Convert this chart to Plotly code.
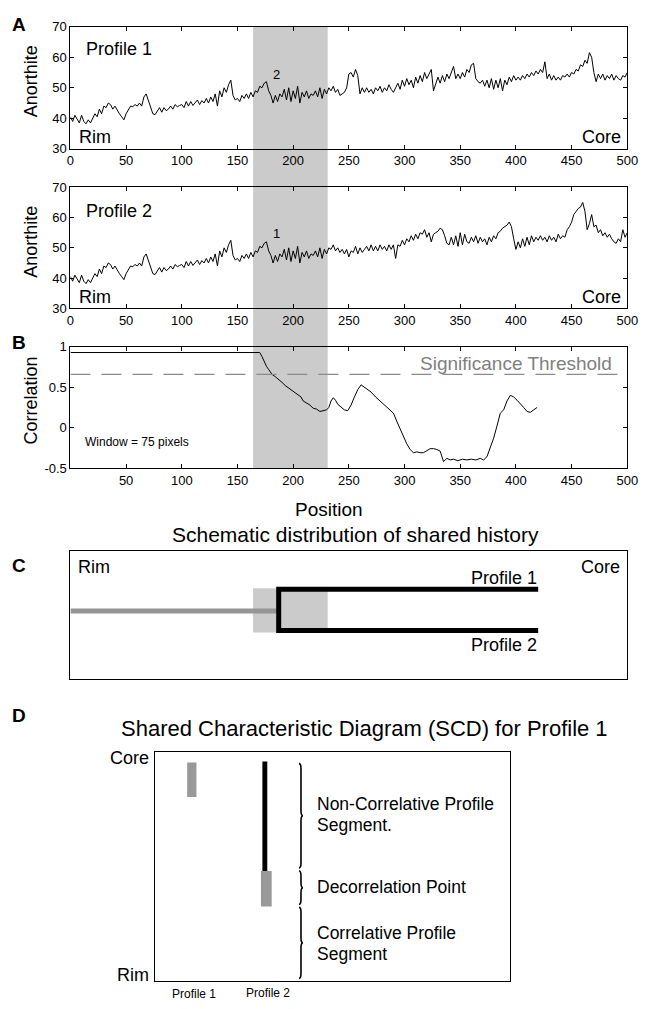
import plotly.graph_objects as go

# ---------------- data ----------------
# Anorthite content along the traverse (step of 2 position units).
# Rim-side segment common to both profiles (positions 0-230)
shared_rim = [
    40.5, 39, 41, 39.5, 38.5, 41, 39, 38.2, 39.5, 38.5,
    40, 41.5, 40.5, 43, 41.5, 44, 43.5, 45, 44.5, 43,
    44, 42.5, 41.5, 40.5, 39.5, 41.5, 43, 44, 43.8, 44.5,
    44, 45, 44, 47, 48, 46, 44, 41.5, 41.2, 42.5,
    43.5, 42, 43.5, 42.5, 43, 44, 43, 44.5, 43.8, 44.2,
    44.5, 43.5, 45.5, 44, 45.5, 44.2, 45, 46, 44.5, 45.8,
    45, 46.5, 45, 47, 45.5, 48, 44, 49, 47, 50,
    48.5, 51, 52.5, 47.5, 46, 46.5, 45.5, 47.5, 46.5, 48,
    46.5, 48.5, 47, 49, 48.5, 50.5, 50, 51.5, 52, 49,
    47.5, 45, 47.5, 45.5, 48, 47, 49.5, 46, 50, 45.5,
    49, 46.5, 50.5, 45, 48.5, 47, 49, 46.5, 48, 47.5,
    49, 47, 50, 46.5, 49.5, 48,
]

# Core-side segments (positions 232-500)
profile1_core = [
    50, 49, 50.5, 48.5, 49.5, 47.5, 48, 48.5, 50, 54.5,
    55, 53.5, 56, 54, 48, 50, 48.5, 50, 48.5, 49.5,
    48, 50, 49, 50.5, 48.5, 50, 49, 51, 49.5, 48.5,
    50, 51.5, 49.5, 52.5, 50.5, 53, 51, 52.5, 50, 53.5,
    51.5, 54, 52, 55, 53, 54.5, 56, 49, 51.5, 53.5,
    51.5, 54, 52, 54.5, 53, 55, 57, 53, 54.5, 53,
    55, 53.5, 56, 55, 57.5, 58, 53, 52, 51.5, 52.5,
    50.5, 52.5, 50, 53, 49.5, 52.5, 50, 53, 49, 52.5,
    51, 53.5, 52, 54, 52.5, 53.5, 52.5, 54, 53, 54.5,
    53.5, 55, 54, 55.5, 54.5, 56, 55, 58.5, 53, 54.5,
    52.5, 54, 52.5, 53.5, 52.5, 54, 53.5, 54.5, 53.5, 55,
    54.5, 56, 55.5, 57.5, 57, 59, 58, 61.5, 60, 55,
    52, 54.5, 53, 54.5, 52.5, 54, 53, 54.5, 52.5, 54,
    53, 52.5, 54, 53.5, 55,
]

profile2_core = [
    50, 49.5, 51, 49, 50, 48.5, 49.5, 48, 49.5, 47,
    49, 48.5, 50.5, 48, 50, 48.5, 49.5, 50.5, 49, 51,
    49, 50.5, 49, 51, 49.5, 50.5, 49, 51, 49.5, 51,
    46.5, 51, 50.5, 52.5, 51, 53, 52, 54, 52.5, 54.5,
    53, 55, 54.5, 56, 53.5, 55, 52, 54.5, 55, 55.5,
    56.5, 56, 54, 51.5, 51, 53.5, 51, 54, 50.5, 55,
    51, 54.5, 52, 51.5, 53.5, 52, 54, 51.5, 53.5, 52,
    53, 51, 53.5, 52, 54, 53, 55, 55.5, 56.5, 57,
    57.5, 58.5, 57, 53, 49.5, 52, 50, 53, 50.5, 53.5,
    51, 54, 52, 53.5, 52.5, 54, 52.5, 53.5, 52, 54,
    52.5, 53.5, 52, 54.5, 53, 54, 53.5, 56, 57, 58.5,
    61, 62, 63, 63.5, 65, 62, 56, 58, 61, 57,
    57.5, 55, 56, 54, 55, 53.5, 54.5, 53, 52, 51.5,
    53, 52, 56, 53.5, 55,
]

sample_step = 2
core_start = 232

# Moving-window correlation between the two profiles (window = 75)
corr_pos = [
    0, 170, 172, 174, 176, 178, 181, 184, 187, 190,
    193, 196, 200, 204, 207, 209, 212, 215, 218, 221,
    224, 227, 230, 232, 234, 236, 238, 240, 243, 246,
    249, 252, 255, 258, 261, 264, 267, 270, 274, 278,
    282, 286, 290, 293, 296, 299, 302, 305, 308, 311,
    314, 317, 320, 323, 326, 329, 332, 335, 338, 341,
    344, 348, 352, 356, 360, 364, 368, 371, 374, 377,
    380, 383, 386, 389, 392, 395, 398, 401, 404, 407,
    410, 413, 416, 419,
]
corr_val = [
    0.93, 0.93, 0.88, 0.81, 0.76, 0.72, 0.66, 0.63, 0.60, 0.56,
    0.52, 0.49, 0.46, 0.42, 0.38, 0.33, 0.31, 0.28, 0.24, 0.23,
    0.20, 0.21, 0.22, 0.25, 0.33, 0.37, 0.34, 0.29, 0.25, 0.22,
    0.21, 0.28, 0.38, 0.47, 0.53, 0.50, 0.48, 0.44, 0.38, 0.33,
    0.28, 0.24, 0.18, 0.08, -0.02, -0.12, -0.20, -0.27, -0.31, -0.30,
    -0.31, -0.31, -0.28, -0.26, -0.26, -0.27, -0.29, -0.42, -0.38, -0.40,
    -0.39, -0.41, -0.39, -0.40, -0.39, -0.40, -0.38, -0.40, -0.36, -0.25,
    -0.13, 0.02, 0.18, 0.22, 0.33, 0.40, 0.38, 0.34, 0.30, 0.25,
    0.20, 0.19, 0.22, 0.25,
]
significance_threshold = 0.66

# Decorrelation window, split point and end of the compared profiles
decorr_window = [164, 231]
split_pos = 187
profile_end = 420

pos_ticks = [0, 50, 100, 150, 200, 250, 300, 350, 400, 450, 500]
an_ticks = [30, 40, 50, 60, 70]
corr_ticks = [-0.5, 0, 0.5, 1]
corr_tick_text = ["-0.5", "0", "0.5", "1"]

# ---------------- layout helpers ----------------
W, H = 650, 1009
FONT = "Liberation Sans, Arial, sans-serif"


def px(x):
    return x / W


def py(y):
    return 1 - y / H


shared_x = [i * sample_step for i in range(len(shared_rim))]
core_x = [core_start + i * sample_step for i in range(len(profile1_core))]
prof_x = shared_x + core_x
prof1 = shared_rim + profile1_core
prof2 = shared_rim + profile2_core

fig = go.Figure()
line_style = dict(color="black", width=1)
fig.add_trace(go.Scatter(x=prof_x, y=prof1, mode="lines", line=line_style,
                         xaxis="x", yaxis="y", hoverinfo="skip"))
fig.add_trace(go.Scatter(x=prof_x, y=prof2, mode="lines", line=line_style,
                         xaxis="x2", yaxis="y2", hoverinfo="skip"))
fig.add_trace(go.Scatter(x=corr_pos, y=corr_val, mode="lines", line=line_style,
                         xaxis="x3", yaxis="y3", hoverinfo="skip"))
fig.add_trace(go.Scatter(x=[0, 500], y=[significance_threshold] * 2, mode="lines",
                         line=dict(color="#8a8a8a", width=1.3, dash="20px,11px"),
                         xaxis="x3", yaxis="y3", hoverinfo="skip"))

X_DOM = [px(68), px(638)]
tick_common = dict(showline=True, linecolor="black", linewidth=1, mirror="ticks",
                   ticks="inside", ticklen=4, tickwidth=1, tickcolor="black",
                   showgrid=False, zeroline=False,
                   tickfont=dict(family=FONT, size=13, color="black"))
frame_only = dict(showline=True, linecolor="black", linewidth=1, mirror=True,
                  ticks="", showticklabels=False, showgrid=False, zeroline=False)


def xax(anchor, vals):
    return dict(domain=X_DOM, range=[0, 500], anchor=anchor, tickvals=vals, **tick_common)


def yax(anchor, dom, rng, vals, text=None):
    d = dict(domain=dom, range=rng, anchor=anchor, tickvals=vals, **tick_common)
    if text:
        d["ticktext"] = text
    return d


fig.update_layout(
    width=W, height=H, margin=dict(l=0, r=0, t=0, b=0),
    paper_bgcolor="white", plot_bgcolor="rgba(0,0,0,0)", showlegend=False,
    font=dict(family=FONT, color="black"),
    xaxis=xax("y", pos_ticks),
    yaxis=yax("x", [py(144), py(20)], [30, 70], an_ticks),
    xaxis2=xax("y2", pos_ticks),
    yaxis2=yax("x2", [py(306), py(183)], [30, 70], an_ticks),
    xaxis3=xax("y3", pos_ticks[1:]),
    yaxis3=yax("x3", [py(468), py(345)], [-0.5, 1], corr_ticks, corr_tick_text),
    xaxis4=dict(domain=X_DOM, range=[0, 500], anchor="y4", **frame_only),
    yaxis4=dict(domain=[py(682), py(552)], range=[0, 130], anchor="x4", **frame_only),
    xaxis5=dict(domain=[px(155), px(518)], range=[0, 363], anchor="y5", **frame_only),
    yaxis5=dict(domain=[py(989), py(756)], range=[233, 0], anchor="x5", **frame_only),
)

shapes = []
# shaded decorrelation interval through panels A and B
shapes.append(dict(type="rect", xref="x", yref="paper",
                   x0=decorr_window[0], x1=decorr_window[1], y0=py(468), y1=py(20),
                   fillcolor="#cbcbcb", line=dict(width=0), layer="below"))

# panel C schematic
shapes.append(dict(type="rect", xref="x4", yref="y4",
                   x0=decorr_window[0], x1=decorr_window[1], y0=47, y1=92,
                   fillcolor="#cbcbcb", line=dict(width=0), layer="above"))
shapes.append(dict(type="line", xref="x4", yref="y4", x0=0, x1=split_pos, y0=69, y1=69,
                   line=dict(color="#959595", width=5)))
shapes.append(dict(type="path", xref="x4", yref="y4",
                   path=f"M {profile_end},91 L {split_pos},91 L {split_pos},49 L {profile_end},49",
                   line=dict(color="black", width=5)))

# panel D schematic
shapes.append(dict(type="rect", xref="x5", yref="y5", x0=32.5, x1=42, y0=11, y1=46,
                   fillcolor="#999999", line=dict(width=0)))
shapes.append(dict(type="rect", xref="x5", yref="y5", x0=109.5, x1=114.5, y0=10, y1=121,
                   fillcolor="black", line=dict(width=0)))
shapes.append(dict(type="rect", xref="x5", yref="y5", x0=108, x1=119, y0=121, y1=157,
                   fillcolor="#999999", line=dict(width=0)))


def brace(x0, y0, y1, w=4.0):
    ym = (y0 + y1) / 2
    xc = x0 + w / 2
    r = 5
    return (f"M {x0},{y0} Q {xc},{y0} {xc},{y0 + r} L {xc},{ym - r} "
            f"Q {xc},{ym} {x0 + w},{ym} Q {xc},{ym} {xc},{ym + r} "
            f"L {xc},{y1 - r} Q {xc},{y1} {x0},{y1}")


for b0, b1 in [(12, 118), (121, 155), (158, 230)]:
    shapes.append(dict(type="path", xref="x5", yref="y5", path=brace(147, b0, b1),
                       line=dict(color="black", width=1.6)))

fig.update_layout(shapes=shapes)

ann = []


def text(x, y, s, size, xref="paper", yref="paper", xanchor="center",
         yanchor="middle", color="black", angle=0):
    ann.append(dict(x=x, y=y, xref=xref, yref=yref, text=s, showarrow=False,
                    xanchor=xanchor, yanchor=yanchor, textangle=angle,
                    font=dict(family=FONT, size=size, color=color)))


# panel letters
for letter, yy in [("A", 18), ("B", 341), ("C", 567), ("D", 719)]:
    text(px(15), py(yy), f"<b>{letter}</b>", 19)

# panel A
text(px(28), py(75), "Anorthite", 18, angle=-90)
text(px(28), py(238), "Anorthite", 18, angle=-90)
text(12, 62.6, "Profile 1", 18, "x", "y", xanchor="left")
text(12, 62.3, "Profile 2", 18, "x2", "y2", xanchor="left")
for xr, yr in [("x", "y"), ("x2", "y2")]:
    text(6, 33.9, "Rim", 18, xr, yr, xanchor="left")
    text(496.5, 33.9, "Core", 18, xr, yr, xanchor="right")
text(185, 54.5, "2", 13, "x", "y")
text(185, 54.8, "1", 13, "x2", "y2")

# panel B
text(px(28), py(399), "Correlation", 18, angle=-90)
text(px(333), py(510), "Position", 19)
text(488.5, 0.79, "Significance Threshold", 19, "x3", "y3", xanchor="right", color="#808080")
text(11.5, -0.18, "Window = 75 pixels", 12, "x3", "y3", xanchor="left")

# panel C
text(px(360), py(535), "Schematic distribution of shared history", 21)
text(5, 114, "Rim", 18, "x4", "y4", xanchor="left")
text(495.5, 114, "Core", 18, "x4", "y4", xanchor="right")
text(profile_end + 1, 102, "Profile 1", 18, "x4", "y4", xanchor="right")
text(profile_end + 1, 34, "Profile 2", 18, "x4", "y4", xanchor="right")

# panel D
text(px(369), py(732), "Shared Characteristic Diagram (SCD) for Profile 1", 22)
text(px(150), py(762), "Core", 18, xanchor="right")
text(px(150), py(983), "Rim", 18, xanchor="right")
text(px(194), py(1002), "Profile 1", 12)
text(px(270), py(1001), "Profile 2", 12)
text(163, 53, "Non-Correlative Profile", 17.5, "x5", "y5", xanchor="left")
text(163, 74, "Segment.", 17.5, "x5", "y5", xanchor="left")
text(163, 137, "Decorrelation Point", 17.5, "x5", "y5", xanchor="left")
text(163, 184, "Correlative Profile", 17.5, "x5", "y5", xanchor="left")
text(163, 205, "Segment", 17.5, "x5", "y5", xanchor="left")

fig.update_layout(annotations=ann)

fig.write_html("out.html")
